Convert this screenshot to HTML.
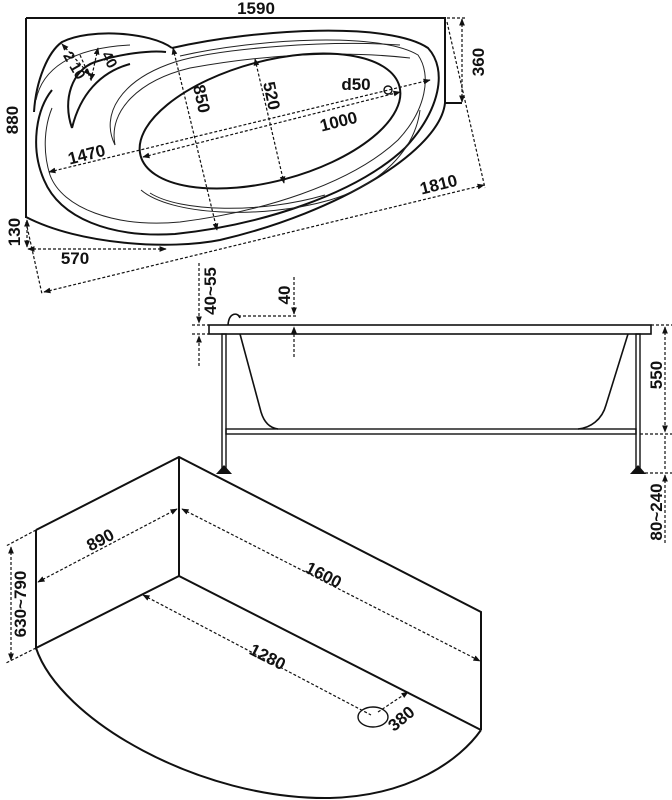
<!DOCTYPE html>
<html><head><meta charset="utf-8"><style>
html,body{margin:0;padding:0;background:#fff;}
svg{display:block;}
text{font-family:"Liberation Sans",Arial,sans-serif;font-weight:bold;font-size:17px;fill:#111;}
.m{fill:none;stroke:#111;stroke-width:2;}
.t{fill:none;stroke:#222;stroke-width:1;}
.d{fill:none;stroke:#111;stroke-width:1.2;stroke-dasharray:3,2;}
</style></head><body>
<svg width="672" height="800" viewBox="0 0 672 800" xmlns="http://www.w3.org/2000/svg">
<defs>
<marker id="a" viewBox="0 0 10 10" refX="9" refY="5" markerWidth="6" markerHeight="6" orient="auto-start-reverse"><path d="M0,1 L10,5 L0,9 z" fill="#111"/></marker>
</defs>

<!-- TOP VIEW -->
<path class="m" d="M26,18 H445 V103 H462"/>
<path class="m" d="M26,18 V218"/>
<path class="m" d="M445,103 C440,150 340,212 220,240 C170,250 80,245 26,217"/>
<!-- shell rim -->
<path class="m" d="M172,48 C260,28 390,22 428,48 C448,70 440,110 405,148 C355,195 260,225 175,234 C110,238 60,218 44,180 C30,148 36,110 52,90"/>
<path class="t" d="M180,56 C260,38 380,32 418,55 C432,75 426,110 398,140 C350,185 260,212 180,222 C115,228 62,208 50,175 C42,150 45,125 52,108"/>
<!-- headrest wing -->
<path class="m" d="M34,112 C36,80 48,52 62,42 C90,28 150,32 172,48"/>
<path class="t" d="M36,100 C42,70 70,48 130,45"/>
<path class="m" d="M72,128 C62,100 72,70 95,62 C120,54 150,50 166,52"/>
<path class="m" d="M72,128 C80,95 100,72 130,64"/>
<path class="t" d="M115,145 C100,115 120,80 175,62 C220,48 330,40 400,45"/>
<path class="t" d="M115,145 C108,110 140,80 190,68 C260,55 340,50 410,58"/>
<path class="t" d="M141,190 C170,215 260,220 330,200 C380,185 415,150 420,110"/>
<path class="t" d="M150,193 C180,212 260,214 325,195"/>
<!-- bowl -->
<ellipse class="m" cx="270" cy="121" rx="134" ry="60" transform="rotate(-15 270 121)"/>
<circle class="m" cx="388" cy="90" r="4" style="stroke-width:1.4"/>
<!-- dims top -->
<text x="256" y="14" text-anchor="middle">1590</text>
<text transform="translate(18,120) rotate(-90)" text-anchor="middle">880</text>
<line class="d" x1="462" y1="19" x2="462" y2="102" marker-start="url(#a)" marker-end="url(#a)"/>
<line class="d" x1="447" y1="18" x2="465" y2="18"/>
<text transform="translate(484,62) rotate(-90)" text-anchor="middle">360</text>
<line class="d" x1="447" y1="22" x2="485" y2="188"/>
<line class="d" x1="26" y1="222" x2="42" y2="294"/>
<line class="d" x1="44" y1="292" x2="484" y2="185" marker-start="url(#a)" marker-end="url(#a)"/>
<text transform="translate(440,190) rotate(-14)" text-anchor="middle">1810</text>
<line class="d" x1="28" y1="249" x2="166" y2="249" marker-start="url(#a)" marker-end="url(#a)"/>
<text x="75" y="264" text-anchor="middle">570</text>
<line class="d" x1="27" y1="220" x2="27" y2="247" marker-start="url(#a)" marker-end="url(#a)"/>
<text transform="translate(20,232) rotate(-90)" text-anchor="middle">130</text>
<line class="d" x1="49" y1="172" x2="430" y2="80" marker-start="url(#a)" marker-end="url(#a)"/>
<text transform="translate(88,160) rotate(-14)" text-anchor="middle">1470</text>
<line class="d" x1="143" y1="157" x2="400" y2="92" marker-start="url(#a)" marker-end="url(#a)"/>
<text transform="translate(340,127) rotate(-14)" text-anchor="middle">1000</text>
<line class="d" x1="173" y1="48" x2="217" y2="230" marker-start="url(#a)" marker-end="url(#a)"/>
<text transform="translate(196,100) rotate(78)" text-anchor="middle">850</text>
<line class="d" x1="255" y1="59" x2="284" y2="183" marker-start="url(#a)" marker-end="url(#a)"/>
<text transform="translate(266,97) rotate(78)" text-anchor="middle">520</text>
<text x="356" y="90" text-anchor="middle">d50</text>
<line class="d" x1="62" y1="44" x2="90" y2="75" marker-start="url(#a)" marker-end="url(#a)"/>
<text transform="translate(70,68) rotate(60)" text-anchor="middle" style="font-size:15px">2 10</text>
<line class="d" x1="98" y1="48" x2="91" y2="80" marker-start="url(#a)" marker-end="url(#a)"/>
<line class="d" x1="80" y1="55" x2="92" y2="82"/>
<text transform="translate(105,62) rotate(62)" text-anchor="middle" style="font-size:15px">40</text>

<!-- SIDE VIEW -->
<rect class="m" x="209" y="325" width="442" height="9" style="stroke-width:1.6"/>
<path class="m" d="M228,325 C229,312 238,312 240,318" style="stroke-width:1.6"/>
<path class="m" d="M240,334 L261,412 C264,422 270,428 278,429" style="stroke-width:1.6"/>
<path class="m" d="M628,334 L606,405 C602,420 590,428 578,429" style="stroke-width:1.6"/>
<rect class="m" x="222" y="334" width="4" height="134" style="stroke-width:1.4"/>
<rect class="m" x="636" y="334" width="4" height="134" style="stroke-width:1.4"/>
<rect class="m" x="226" y="429" width="410" height="5" style="stroke-width:1.4"/>
<path d="M216,474 L224,465 L232,474 Z" fill="#111"/>
<path d="M630,474 L638,465 L646,474 Z" fill="#111"/>
<line class="d" x1="199" y1="263" x2="199" y2="323" marker-end="url(#a)"/>
<line class="d" x1="199" y1="366" x2="199" y2="336" marker-end="url(#a)"/>
<line class="d" x1="192" y1="325" x2="209" y2="325"/>
<line class="d" x1="192" y1="334" x2="209" y2="334"/>
<text transform="translate(216,291) rotate(-90)" text-anchor="middle">40~55</text>
<line class="d" x1="294" y1="277" x2="294" y2="314" marker-end="url(#a)"/>
<line class="d" x1="294" y1="357" x2="294" y2="327" marker-end="url(#a)"/>
<line class="d" x1="238" y1="316" x2="297" y2="316"/>
<text transform="translate(290,295) rotate(-90)" text-anchor="middle">40</text>
<line class="d" x1="651" y1="325" x2="672" y2="325"/>
<line class="d" x1="640" y1="434" x2="672" y2="434"/>
<line class="d" x1="640" y1="473" x2="672" y2="473"/>
<line class="d" x1="665" y1="327" x2="665" y2="432" marker-start="url(#a)" marker-end="url(#a)"/>
<text transform="translate(662,375) rotate(-90)" text-anchor="middle">550</text>
<line class="d" x1="665" y1="436" x2="665" y2="471"/>
<line class="d" x1="665" y1="475" x2="665" y2="545" marker-start="url(#a)"/>
<text transform="translate(662,512) rotate(-90)" text-anchor="middle">80~240</text>

<!-- ISO VIEW -->
<path class="m" d="M36,530 L179,457 L481,612 L481,730"/>
<path class="m" d="M179,457 V576"/>
<path class="m" d="M36,530 V648 L179,576 L481,730"/>
<path class="m" d="M36,648 C60,720 200,800 330,798 C410,796 460,760 481,730"/>
<ellipse class="m" cx="373" cy="717" rx="15" ry="10" style="stroke-width:1.4"/>
<line class="d" x1="36" y1="530" x2="6" y2="546"/>
<line class="d" x1="36" y1="648" x2="6" y2="663"/>
<line class="d" x1="11" y1="547" x2="11" y2="660" marker-start="url(#a)" marker-end="url(#a)"/>
<text transform="translate(26,604) rotate(-90)" text-anchor="middle">630~790</text>
<line class="d" x1="38" y1="582" x2="177" y2="509" marker-start="url(#a)" marker-end="url(#a)"/>
<text transform="translate(103,545) rotate(-28)" text-anchor="middle">890</text>
<line class="d" x1="182" y1="509" x2="480" y2="661" marker-start="url(#a)" marker-end="url(#a)"/>
<text transform="translate(321,580) rotate(27)" text-anchor="middle">1600</text>
<line class="d" x1="143" y1="595" x2="371" y2="715" marker-start="url(#a)"/>
<text transform="translate(265,662) rotate(27)" text-anchor="middle">1280</text>
<line class="d" x1="378" y1="712" x2="408" y2="692" marker-end="url(#a)"/>
<text transform="translate(405,723) rotate(-40)" text-anchor="middle">380</text>
</svg>
</body></html>
